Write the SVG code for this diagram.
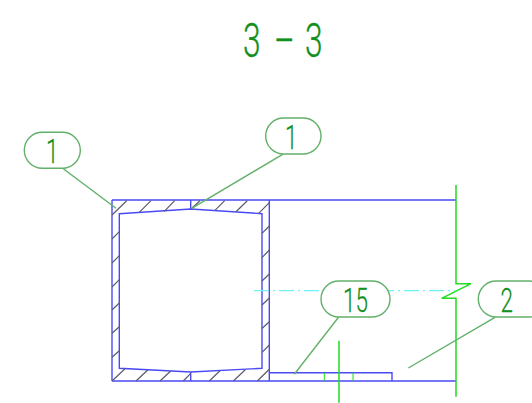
<svg xmlns="http://www.w3.org/2000/svg" width="532" height="403" viewBox="0 0 532 403">
<style>
.b{fill:none;stroke:#4a4af5;stroke-width:1.4}
.h{fill:none;stroke:#5c5c6e;stroke-width:1.2}
.g{fill:none;stroke:#1fdc1f;stroke-width:1.5}
.l{fill:none;stroke:#63b06a;stroke-width:1.4}
.p{fill:#fff;stroke:#63b06a;stroke-width:1.4}
.c{fill:none;stroke:#6ff2f2;stroke-width:1.2;stroke-dasharray:15 4 2 4}
text{font-family:Roboto,"Liberation Sans",sans-serif;font-weight:300;fill:#128f1c;stroke:#128f1c;stroke-width:.3}
.t{font-size:34px}
</style>
<rect width="532" height="403" fill="#fff"/>
<g id="title"><text font-size="48" transform="translate(243 57) scale(.66 1)"><tspan x="0">3</tspan><tspan x="47">–</tspan><tspan x="94">3</tspan></text></g>
<g id="section">
<path class="b" d="M112 200H456M112 381H456M112 200V381M269.300 200V381"/>
<path class="b" d="M119.300 213.700L190.700 209L262 213.700V368.300L190.700 372L119.300 368.300Z"/>
<path class="b" d="M190.700 200V209M190.700 372V381"/>
<path class="h" d="M112 215L126.700 200.700M139 212.700L151 200.700M164 211.700L174.700 200.700M192 208L200 200.700M214.700 210.700L224.700 200.700M236 211.700L247.300 200.700M258.700 213.300L269.300 202.700"/>
<path class="h" d="M112 239L119.300 231.700M112 263L119.300 255.700M112 287L119.300 279.700M112 310L119.300 303M112 333.300L119.300 326.700M112 357.300L119.300 350.700"/>
<path class="h" d="M262 233.300L269.300 226M262 257.700L269.300 250M262 281L269.300 274M262 305L269.300 298M262 328.500L269.300 321.700M262 352.300L269.300 345"/>
<path class="h" d="M112 381L125 368.700M136 381L148 369.700M160 381L170.700 371M183.300 381L190.700 373.300M209.300 381L220 370.700M233.300 381L245.300 369.700M257.300 381L269.300 369.300"/>
</g>
<g id="plate">
<path class="b" d="M269.300 372.700H392V381"/>
<path class="g" d="M324.300 372.700V381M353 372.700V381" style="stroke-width:1"/>
</g>
<g id="breakline"><path class="g" d="M456 185V283.700H471L441.700 298.300H456V396.700"/></g>
<g id="axes">
<path class="c" d="M254 290.700H456"/>
<path class="g" d="M339 340.700V402.700"/>
</g>
<g id="connectors">
<path class="l" d="M63.300 168.700L116 208.300"/>
<path class="l" d="M282.700 154.300L191.700 208.300"/>
<path class="l" d="M338.700 317L294.300 374.300"/>
<path class="l" d="M495 317.300L408.300 368"/>
</g>
<g id="balloon-1a"><rect class="p" x="24.300" y="132.300" width="56" height="36" rx="18"/><text class="t" transform="translate(46 163) scale(.66 1)">1</text></g>
<g id="balloon-1b"><rect class="p" x="265.700" y="118" width="55.300" height="36" rx="18"/><text class="t" transform="translate(285 149) scale(.66 1)">1</text></g>
<g id="balloon-15"><rect class="p" x="321" y="281" width="69" height="36" rx="18"/><text class="t" transform="translate(343 312) scale(.66 1)">15</text></g>
<g id="balloon-2"><rect class="p" x="478.300" y="281" width="69" height="36" rx="18"/><text class="t" transform="translate(500.500 312) scale(.66 1)">2</text></g>
</svg>
